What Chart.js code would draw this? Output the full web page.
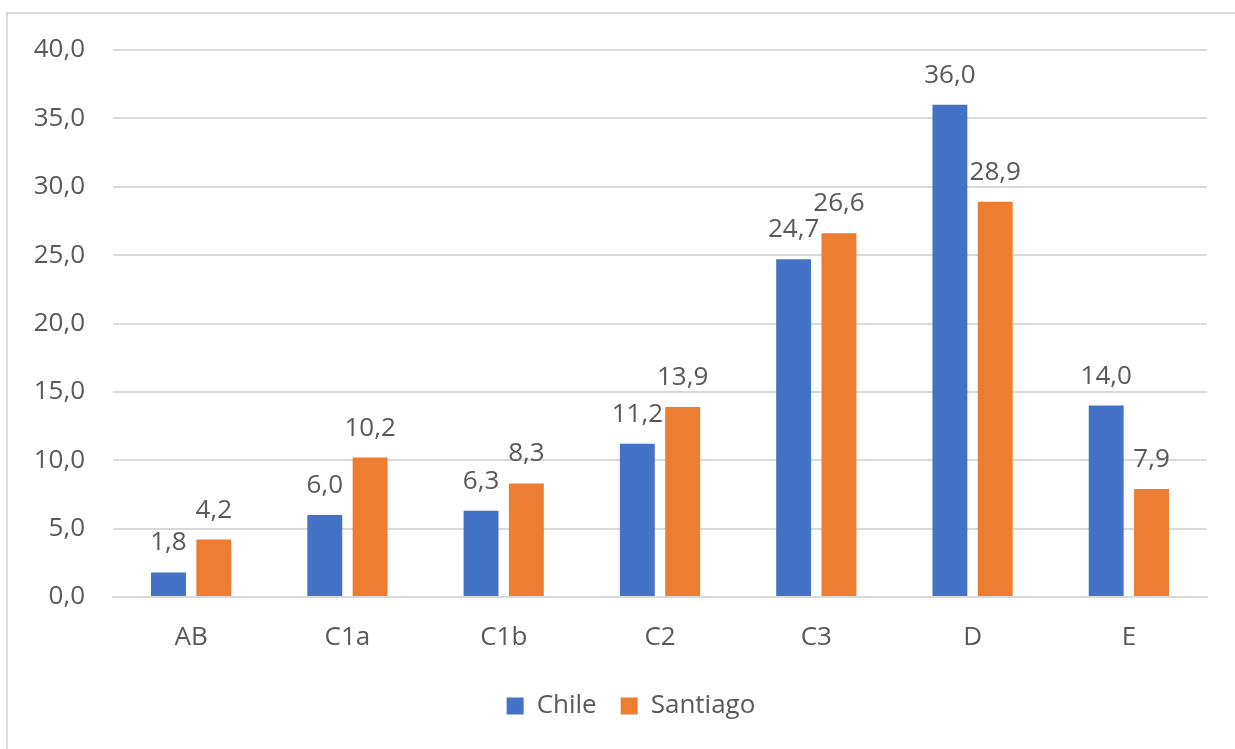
<!DOCTYPE html>
<html>
<head>
<meta charset="utf-8">
<script src="https://cdn.jsdelivr.net/npm/chart.js@4.4.1/dist/chart.umd.min.js"></script>
<style>
  html, body { margin: 0; padding: 0; background: #ffffff; overflow: hidden; width: 1235px; height: 749px; }
  #frame { position: absolute; left: 6px; top: 12px; width: 1300px; height: 800px;
           border-top: 2px solid #d9d9d9; border-left: 2px solid #d9d9d9; box-sizing: border-box; }
  #wrap { position: absolute; left: 0; top: 0; width: 1262px; height: 749px; filter: blur(0.5px); }
</style>
</head>
<body>
<div id="frame"></div>
<div id="wrap"><canvas id="chart" width="1262" height="749"></canvas></div>
<script>
// Socioeconomic group distribution (%), Chile vs Santiago
const categories = ['AB', 'C1a', 'C1b', 'C2', 'C3', 'D', 'E'];
const chileValues = [1.8, 6.0, 6.3, 11.2, 24.7, 36.0, 14.0];
const santiagoValues = [4.2, 10.2, 8.3, 13.9, 26.6, 28.9, 7.9];
const seriesNames = ['Chile', 'Santiago'];
const yTicks = [0, 5, 10, 15, 20, 25, 30, 35, 40];

const TEXT = '#595959';
const GRID = '#d9d9d9';
const FONT = { family: "'Open Sans', 'Noto Sans', sans-serif", size: 26 };

const fmt = v => v.toFixed(1).replace('.', ',');

// Value labels drawn above each bar
const valueLabels = {
  id: 'valueLabels',
  afterDatasetsDraw(chart) {
    const ctx = chart.ctx;
    ctx.save();
    ctx.font = `${FONT.size}px ${FONT.family}`;
    ctx.fillStyle = TEXT;
    ctx.textAlign = 'center';
    ctx.textBaseline = 'alphabetic';
    chart.data.datasets.forEach((ds, i) => {
      chart.getDatasetMeta(i).data.forEach((bar, j) => {
        ctx.fillText(fmt(ds.data[j]), bar.x, bar.y - 22);
      });
    });
    ctx.restore();
  }
};

new Chart(document.getElementById('chart'), {
  type: 'bar',
  data: {
    labels: categories,
    datasets: [
      { label: seriesNames[0], data: chileValues, backgroundColor: '#4472C4' },
      { label: seriesNames[1], data: santiagoValues, backgroundColor: '#ED7D31' }
    ]
  },
  options: {
    responsive: false,
    animation: false,
    devicePixelRatio: 1,
    layout: { padding: { top: 50, right: 0, left: 0, bottom: 20 } },
    datasets: { bar: { categoryPercentage: 0.58, barPercentage: 0.77 } },
    scales: {
      x: {
        grid: { display: false, drawTicks: false },
        border: { display: true, color: GRID, width: 2 },
        ticks: { color: TEXT, font: FONT, padding: 25 },
        afterFit(scale) { scale.height = 72; }
      },
      y: {
        min: 0, max: 40,
        afterBuildTicks(scale) { scale.ticks = yTicks.map(v => ({ value: v })); },
        grid: { color: GRID, lineWidth: 2, drawTicks: false },
        border: { display: false },
        ticks: { color: TEXT, font: FONT, padding: 28, callback: v => fmt(v) },
        afterFit(scale) { scale.width = 113; }
      },
      // empty right-hand margin beside the plot
      yRight: {
        type: 'linear',
        position: 'right',
        grid: { display: false, drawTicks: false },
        border: { display: false },
        ticks: { display: false },
        afterFit(scale) { scale.width = 55; }
      }
    },
    plugins: {
      legend: {
        position: 'bottom',
        labels: { color: TEXT, font: FONT, boxWidth: 17, boxHeight: 17, padding: 24 }
      },
      tooltip: { enabled: false }
    }
  },
  plugins: [valueLabels]
});
</script>
</body>
</html>
